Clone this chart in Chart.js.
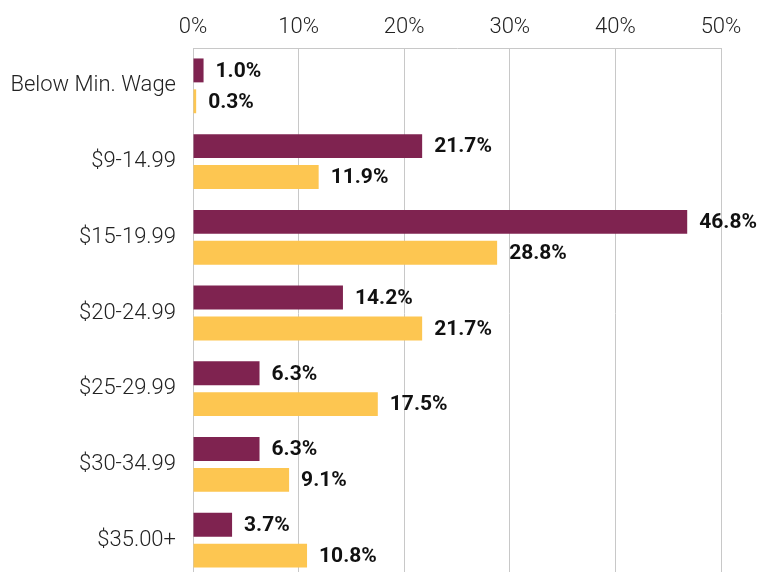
<!DOCTYPE html>
<html><head><meta charset="utf-8">
<script src="https://cdn.jsdelivr.net/npm/chart.js@4"></script>
<style>html,body{margin:0;padding:0;overflow:hidden;background:#fff}canvas{display:block}</style>
</head><body><canvas id="c" width="761" height="578" style="width:761px;height:578px"></canvas>
<script>
const categories = ["Below Min. Wage","$9-14.99","$15-19.99","$20-24.99","$25-29.99","$30-34.99","$35.00+"];
const seriesA = [1.0,21.7,46.8,14.2,6.3,6.3,3.7];
const seriesB = [0.3,11.9,28.8,21.7,17.5,9.1,10.8];
const xTicks = [0,10,20,30,40,50];

const labelPlugin = {
  id:'barLabels',
  afterDatasetsDraw(chart){
    const ctx = chart.ctx;
    ctx.save();
    ctx.font = 'bold 21px Roboto';
    ctx.fillStyle = '#111';
    ctx.textBaseline = 'middle';
    ctx.textAlign = 'left';
    chart.data.datasets.forEach((ds,i)=>{
      chart.getDatasetMeta(i).data.forEach((bar,j)=>{
        ctx.fillText(ds.data[j].toFixed(1)+'%', bar.x+12, bar.y+1);
      });
    });
    ctx.restore();
  }
};

new Chart(document.getElementById('c'),{
  type:'bar',
  data:{labels:categories,datasets:[
    {label:'A',data:seriesA,backgroundColor:'#7f2350',categoryPercentage:0.816,barPercentage:0.774},
    {label:'B',data:seriesB,backgroundColor:'#fdc651',categoryPercentage:0.816,barPercentage:0.774}
  ]},
  options:{
    indexAxis:'y',responsive:false,maintainAspectRatio:false,animation:false,devicePixelRatio:1,
    layout:{padding:{left:0,right:40,top:0,bottom:0}},
    plugins:{legend:{display:false},tooltip:{enabled:false}},
    scales:{
      x:{position:'top',min:0,max:50,
        afterBuildTicks(s){s.ticks=xTicks.map(v=>({value:v}));},
        afterFit(s){s.height=48;},
        grid:{color:'#c8c8c8',lineWidth:1,drawTicks:false},
        border:{color:'#c8c8c8'},
        ticks:{padding:7,color:'#222',font:{family:'Roboto',size:22,weight:'300'},callback:v=>v+'%',maxRotation:0}
      },
      y:{
        afterFit(s){s.width=193;s.paddingTop=0;s.paddingBottom=0;},
        grid:{display:false},
        border:{color:'#c8c8c8'},
        ticks:{padding:9,color:'#222',font:{family:'Roboto',size:22,weight:'300'}}
      }
    }
  },
  plugins:[labelPlugin]
});
</script></body></html>
